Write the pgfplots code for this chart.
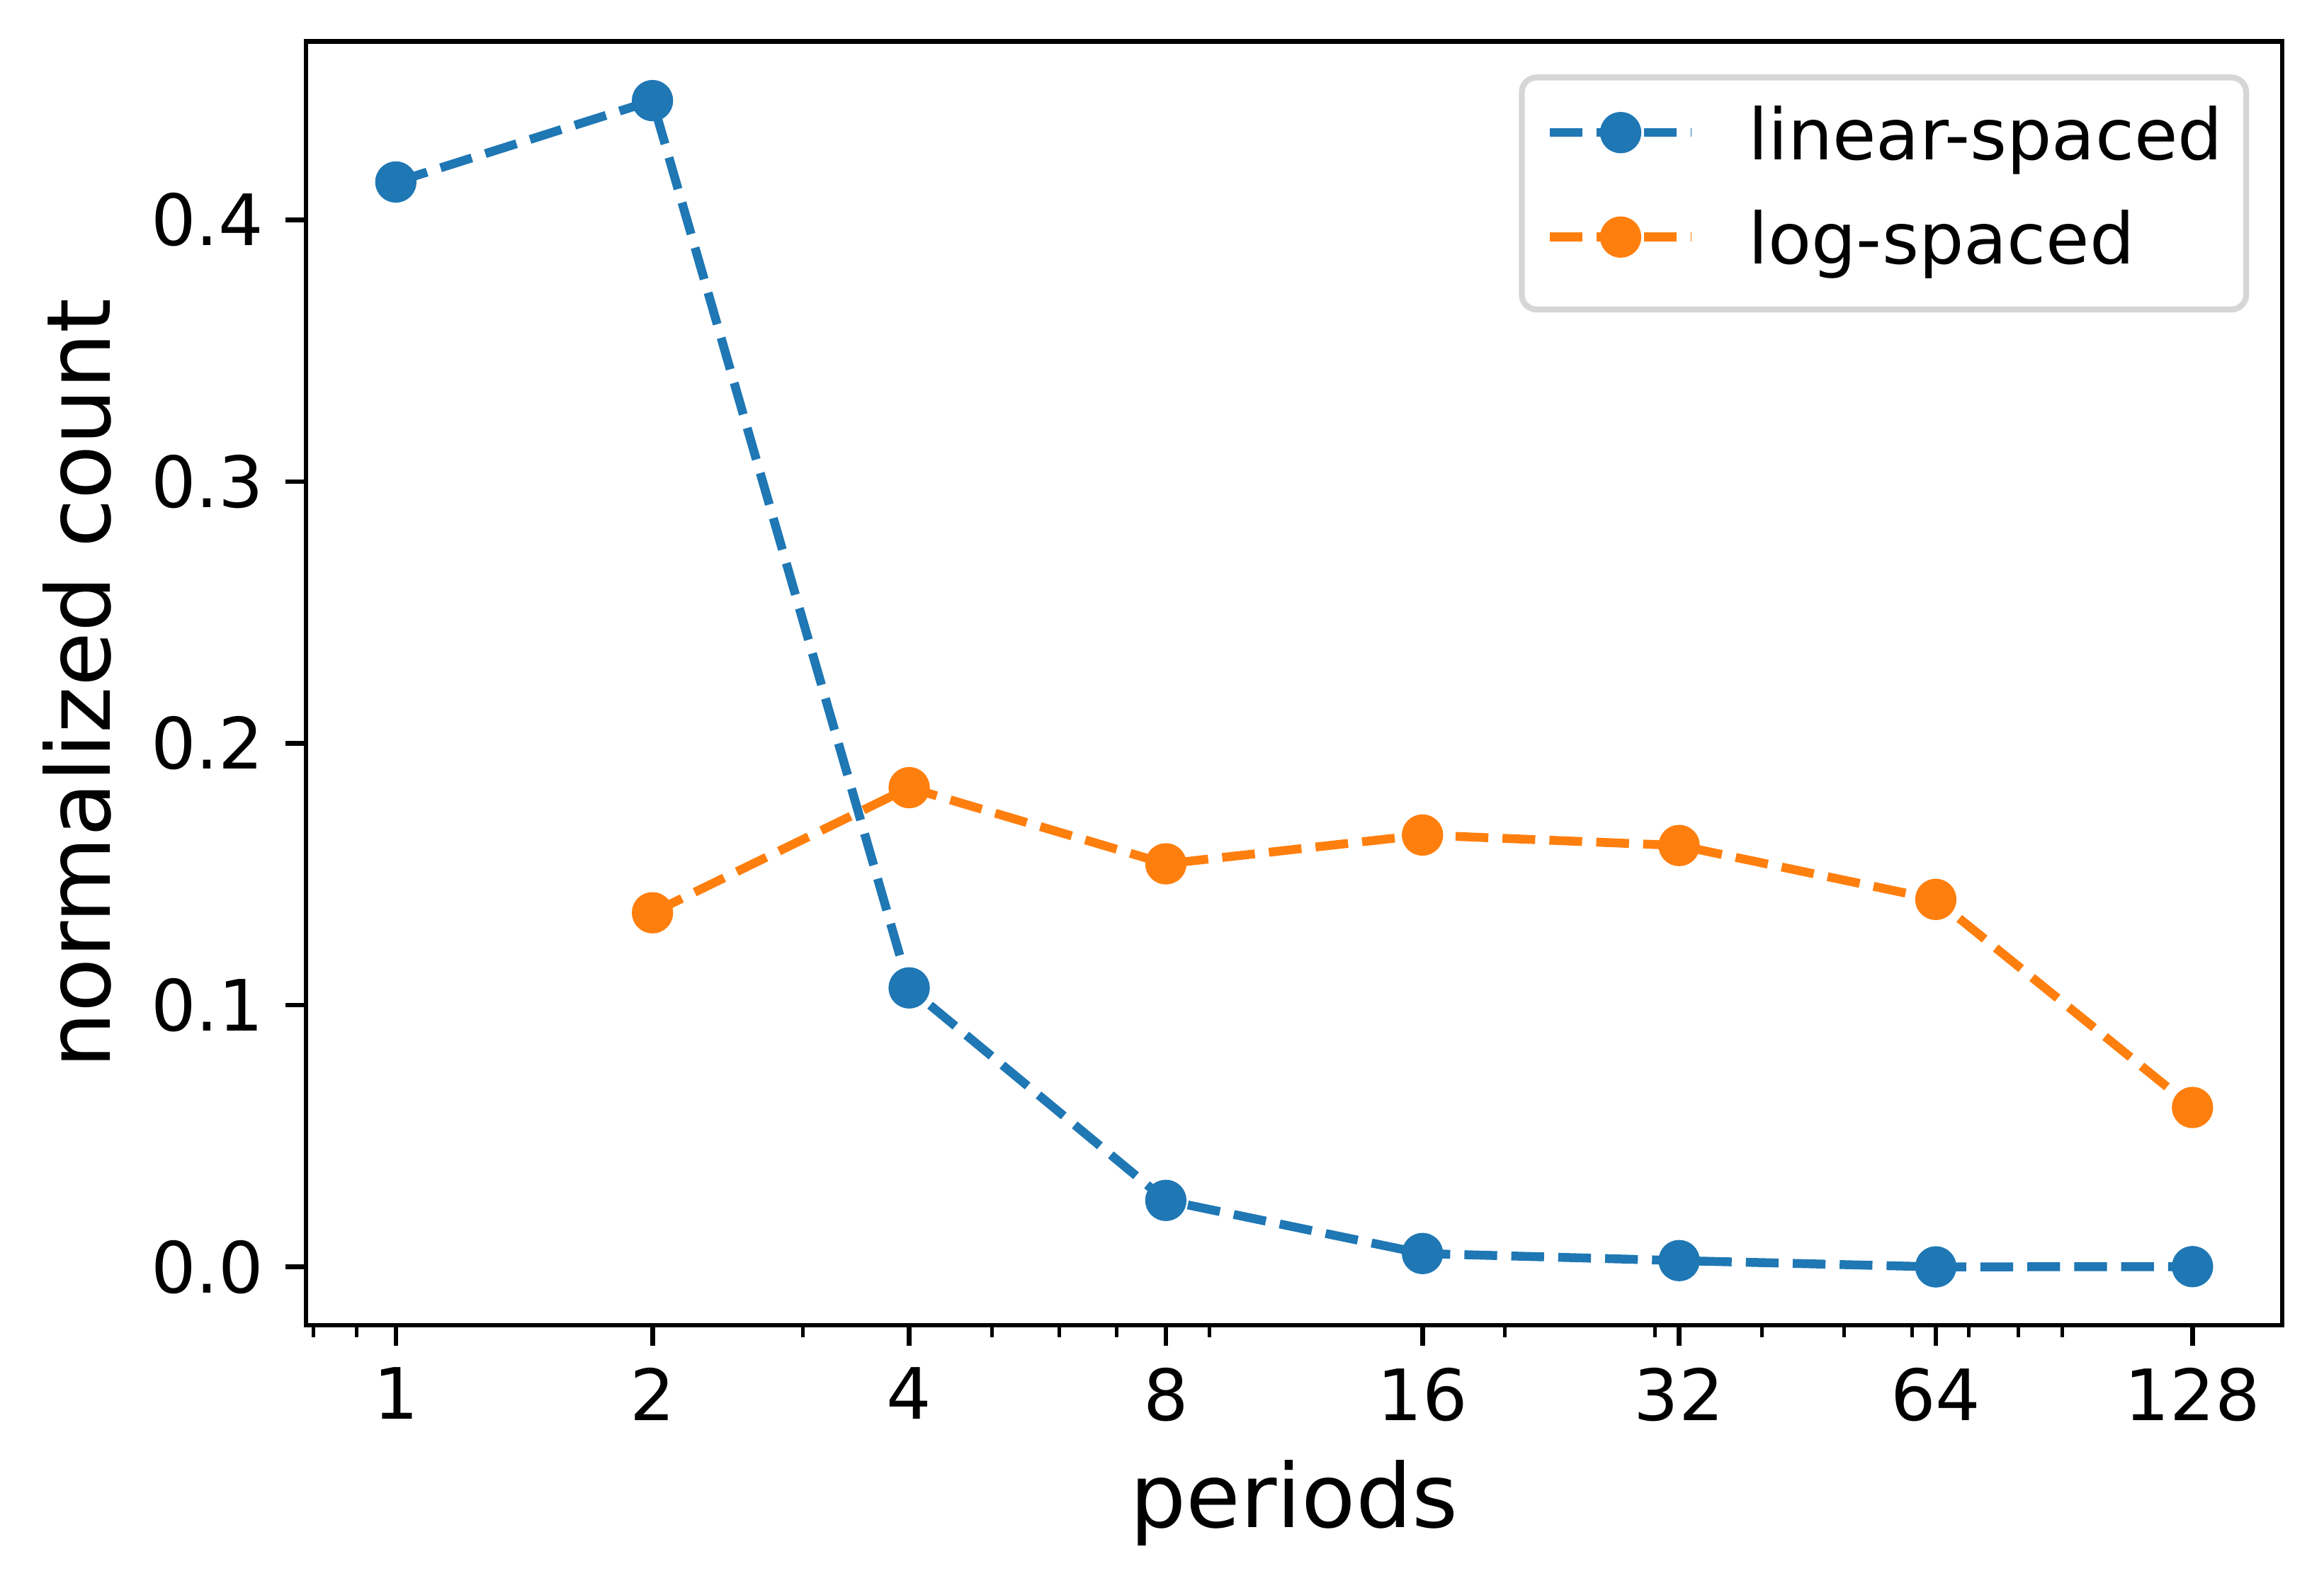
\documentclass[border=0pt]{standalone}
\usepackage{fontspec}
\setmainfont{DejaVu Sans}
\usepackage{pgfplots}
\pgfplotsset{compat=1.18}
\definecolor{mplblue}{HTML}{1F77B4}
\definecolor{mplorange}{HTML}{FF7F0E}
\definecolor{legedge}{RGB}{214,214,214}
\begin{document}
\begin{tikzpicture}
\begin{axis}[
  at={(51.84pt,44.4pt)}, anchor=south west,
  scale only axis, width=334.8pt, height=217.5pt,
  xmode=log,
  xmin=0.7846, xmax=163.1,
  ymin=-0.0223, ymax=0.4682,
  xtick={1,2,4,8,16,32,64,128},
  xticklabels={1,2,4,8,16,32,64,128},
  minor xtick={0.8,0.9,3,5,6,7,9,20,30,40,50,60,70,80,90},
  ytick={0,0.1,0.2,0.3,0.4},
  yticklabel style={/pgf/number format/fixed, /pgf/number format/fixed zerofill, /pgf/number format/precision=1},
  /pgf/number format/assume math mode=true,
  xtick pos=lower, ytick pos=left,
  tick align=outside,
  major tick length=3.5pt, minor tick length=2pt,
  major tick style={line width=0.8pt, black},
  minor tick style={line width=0.6pt, black},
  axis line style={line width=0.8pt},
  tick label style={font=\fontsize{12}{14.4}\selectfont, inner sep=0pt},
  xticklabel style={anchor=north, yshift=-3.5pt},
  yticklabel style={anchor=east, xshift=-3.5pt},
  xlabel={periods}, ylabel={normalized count},
  label style={font=\fontsize{15}{18}\selectfont, inner sep=0pt},
  xlabel style={at={(axis description cs:0.5,-0.15724)}, anchor=base},
  ylabel style={at={(axis description cs:-0.09928,0.5)}, anchor=base},
  legend cell align=left,
  legend image code/.code={\draw[mark repeat=2,mark phase=2] plot coordinates {(0pt,1.46pt)(12pt,1.46pt)(24pt,1.46pt)};},
  legend style={at={(rel axis cs:1,1)}, anchor=north east, xshift=-5.6pt, yshift=-5.6pt,
    draw=legedge, line width=1pt, rounded corners=2.5pt, fill=white,
    font=\fontsize{12}{14.4}\selectfont,
    inner xsep=4.0pt, inner ysep=4.8pt, row sep=5.7pt, column sep=8.9pt,
    cells={anchor=west},
    nodes={inner sep=0pt, text height=9.1pt, text depth=2.9pt}},
]
\addplot[color=mplblue, line width=1.5pt, dash pattern=on 5.55pt off 2.4pt,
  mark=*, mark size=3pt, mark options={solid, line width=1pt, fill=mplblue}]
  coordinates {(1,0.4145) (2,0.4456) (4,0.1066) (8,0.0254) (16,0.0051) (32,0.0024) (64,0.0000) (128,0.0001)};
\addlegendentry{linear-spaced}
\addplot[color=mplorange, line width=1.5pt, dash pattern=on 5.55pt off 2.4pt,
  mark=*, mark size=3pt, mark options={solid, line width=1pt, fill=mplorange}]
  coordinates {(2,0.1353) (4,0.1831) (8,0.1540) (16,0.1650) (32,0.1610) (64,0.1404) (128,0.0609)};
\addlegendentry{log-spaced}
\end{axis}
\pgfresetboundingbox
\useasboundingbox (0,0) rectangle (393.72pt,268.92pt);
\end{tikzpicture}
\end{document}
